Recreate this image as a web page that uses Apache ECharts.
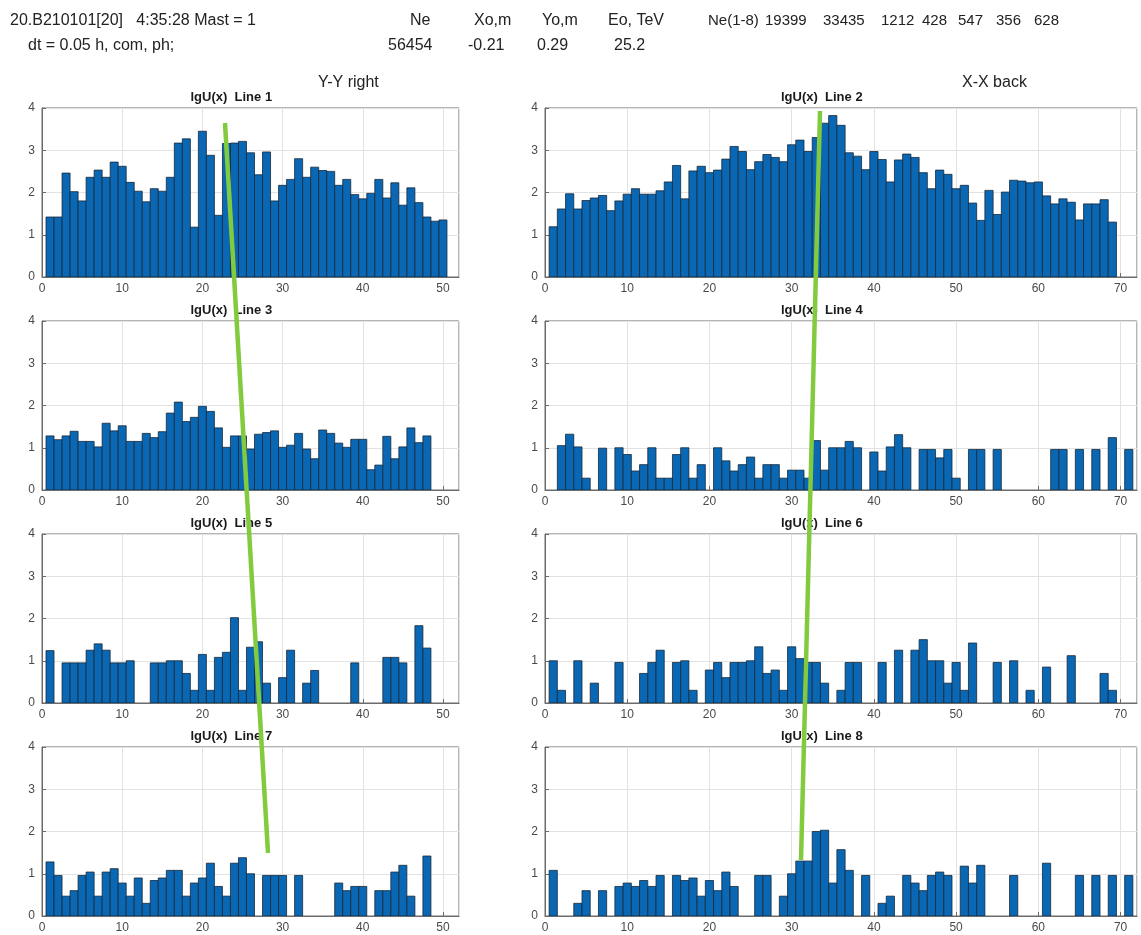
<!DOCTYPE html>
<html><head><meta charset="utf-8">
<script src="https://cdn.jsdelivr.net/npm/echarts@6/dist/echarts.min.js"></script>
<style>html,body{margin:0;padding:0;background:#fff}#c{width:1141px;height:935px}</style>
</head><body><div id="c"></div>
<script>
// ---- data (index i -> channel x = i+1; 0 = no signal) ----
const line1 = [1.42,1.42,2.46,2.02,1.80,2.36,2.53,2.36,2.72,2.62, 2.24,2.03,1.78,2.09,2.03,2.36,3.17,3.27,1.18,3.45, 2.88,1.46,3.16,3.17,3.21,2.94,2.42,2.96,1.80,2.17, 2.31,2.80,2.36,2.60,2.52,2.50,2.17,2.31,1.95,1.85, 1.98,2.31,1.87,2.23,1.70,2.11,1.76,1.42,1.32,1.35];
const line2 = [1.19,1.61,1.97,1.61,1.81,1.87,1.93,1.57,1.80,1.96, 2.09,1.96,1.96,2.04,2.25,2.64,1.85,2.51,2.62,2.47, 2.53,2.79,3.09,2.97,2.54,2.73,2.90,2.83,2.73,3.13, 3.24,2.97,3.30,3.64,3.82,3.59,2.94,2.86,2.54,2.97, 2.78,2.25,2.77,2.91,2.83,2.47,2.09,2.53,2.43,2.09, 2.17,1.75,1.34,2.05,1.48,2.01,2.29,2.27,2.23,2.25, 1.92,1.73,1.85,1.77,1.35,1.73,1.73,1.83,1.30];
const line3 = [1.28,1.19,1.28,1.39,1.15,1.15,1.02,1.58,1.40,1.52, 1.15,1.15,1.34,1.24,1.38,1.82,2.08,1.62,1.72,1.98, 1.86,1.47,1.01,1.28,1.28,0.97,1.32,1.36,1.40,1.01, 1.06,1.34,0.97,0.74,1.42,1.34,1.11,1.01,1.20,1.20, 0.48,0.59,1.27,0.74,1.02,1.47,1.12,1.28];
const line4 = [0,1.05,1.32,1.02,0.28,0,0.99,0,1.00,0.84, 0.45,0.60,1.00,0.28,0.28,0.84,1.00,0.28,0.60,0, 1.00,0.69,0.45,0.60,0.78,0.28,0.60,0.60,0.28,0.47, 0.47,0.28,1.17,0.47,1.00,1.00,1.15,1.00,0,0.90, 0.45,1.02,1.31,1.00,0,0.96,0.96,0.76,0.96,0.28, 0,0.96,0.96,0,0.96,0,0,0,0,0, 0,0.96,0.96,0,0.96,0,0.96,0,1.24,0,0.96];
const line5 = [1.24,0,0.95,0.95,0.95,1.25,1.40,1.25,0.95,0.95, 1.00,0,0,0.95,0.95,1.00,1.00,0.70,0.30,1.15, 0.30,1.08,1.20,2.02,0.30,1.32,1.45,0.47,0,0.60, 1.25,0,0.47,0.77,0,0,0,0,0.95,0, 0,0,1.08,1.08,0.95,0,1.83,1.30];
const line6 = [1.00,0.30,0,1.00,0,0.47,0,0,0.96,0, 0,0.70,0.96,1.25,0,0.96,1.00,0.30,0,0.78, 0.96,0.60,0.96,0.96,1.00,1.33,0.70,0.78,0.30,1.33, 1.05,0.96,0.96,0.47,0,0.30,0.96,0.96,0,0, 0.96,0,1.25,0,1.25,1.50,1.00,1.00,0.47,0.96, 0.30,1.42,0,0,0.96,0,1.00,0,0.30,0, 0.85,0,0,1.12,0,0,0,0.70,0.30];
const line7 = [1.28,0.96,0.47,0.60,0.96,1.04,0.47,1.04,1.12,0.78, 0.47,0.90,0.30,0.84,0.90,1.08,1.08,0.47,0.78,0.90, 1.25,0.70,0.47,1.25,1.38,1.00,0,0.96,0.96,0.96, 0,0.96,0,0,0,0,0.78,0.60,0.70,0.70, 0,0.60,0.60,1.04,1.20,0.47,0,1.42];
const line8 = [1.08,0,0,0.30,0.60,0,0.60,0,0.70,0.78, 0.70,0.84,0.70,0.96,0,0.96,0.84,0.90,0.47,0.84, 0.60,1.04,0.70,0,0,0.96,0.96,0,0.47,1.00, 1.30,1.30,2.00,2.03,0.78,1.57,1.08,0,0.96,0, 0.30,0.47,0,0.96,0.78,0.60,0.96,1.04,0.96,0, 1.18,0.78,1.20,0,0,0,0.96,0,0,0, 1.25,0,0,0,0.96,0,0.96,0,0.96,0,0.96];
const panelTitles = ['lgU(x)  Line 1','lgU(x)  Line 2','lgU(x)  Line 3','lgU(x)  Line 4','lgU(x)  Line 5','lgU(x)  Line 6','lgU(x)  Line 7','lgU(x)  Line 8'];
const yTicks = [0,1,2,3,4];
// hand-drawn green marker strokes (canvas pixel space overlay)
const greenStrokeLeft = [[225,123],[268,853]];
const greenStrokeRight = [[820,111],[801,860]];

// ---- layout ----
const cols = [{left:42, width:417, xmax:52},{left:545, width:592, xmax:72}];
const rowTops = [108,321,534,747];
const rowH = 169;
const lines = [line1,line2,line3,line4,line5,line6,line7,line8];
const BAR = '#0a67b3', EDGE = '#17283a';

function renderBar(params, api){
  const x = api.value(0), y = api.value(1);
  if(!y) return null;
  const a = api.coord([x-0.5, y]);
  const b = api.coord([x+0.5, 0]);
  return {type:'rect', shape:{x:a[0], y:a[1], width:b[0]-a[0], height:b[1]-a[1]},
          style:{fill:BAR, stroke:EDGE, lineWidth:0.8}};
}

const grids=[], xAxes=[], yAxes=[], series=[], graphics=[];
const axisFont = {color:'#4a4a4a', fontSize:12, fontFamily:'Liberation Sans, Arial, sans-serif'};
lines.forEach((arr, i) => {
  const col = cols[i % 2], row = Math.floor(i / 2);
  grids.push({left:col.left, top:rowTops[row], width:col.width, height:rowH,
    show:true, borderColor:'#6b6b6b', borderWidth:1, backgroundColor:'#fff', containLabel:false});
  xAxes.push({type:'value', gridIndex:i, min:0, max:col.xmax, interval:10,
    axisLine:{show:true, lineStyle:{color:'#6b6b6b'}},
    axisTick:{show:true, inside:true, length:4, lineStyle:{color:'#6b6b6b'}},
    axisLabel:Object.assign({margin:6, showMaxLabel:false}, axisFont),
    splitLine:{show:true, lineStyle:{color:'#e2e2e2', width:1}}});
  yAxes.push({type:'value', gridIndex:i, min:yTicks[0], max:yTicks[yTicks.length-1], interval:1,
    axisLine:{show:true, lineStyle:{color:'#6b6b6b'}},
    axisTick:{show:true, inside:true, length:4, lineStyle:{color:'#6b6b6b'}},
    axisLabel:Object.assign({margin:7}, axisFont),
    splitLine:{show:true, lineStyle:{color:'#e2e2e2', width:1}}});
  series.push({type:'custom', xAxisIndex:i, yAxisIndex:i, renderItem:renderBar, clip:true,
    encode:{x:0, y:1}, data:arr.map((v,k)=>[k+1, v]), silent:true, z:2});
  graphics.push({type:'text', left:col.left + col.width/2 - 60, top:rowTops[row]-17,
    style:{text:panelTitles[i], fontSize:13, fontWeight:'bold', fill:'#1a1a1a',
      fontFamily:'Liberation Sans, Arial, sans-serif', width:120, align:'center'}});
});

// overlay grid for the green marker strokes
grids.push({left:0, top:0, width:1141, height:935, show:false});
xAxes.push({type:'value', gridIndex:8, min:0, max:1141, show:false});
yAxes.push({type:'value', gridIndex:8, min:0, max:935, inverse:true, show:false});
[greenStrokeLeft, greenStrokeRight].forEach(s => series.push({type:'line', xAxisIndex:8, yAxisIndex:8,
  data:s, showSymbol:false, symbol:'none', silent:true, z:20, lineStyle:{color:'#82cb3f', width:4.5}}));

// header texts
const hf = 'Liberation Sans, Arial, sans-serif';
const header = [
  ['20.B210101[20]   4:35:28 Mast = 1', 10, 13],
  ['dt = 0.05 h, com, ph;', 28, 38],
  ['Ne', 410, 13], ['Xo,m', 474, 13], ['Yo,m', 542, 13], ['Eo, TeV', 608, 13],
  ['56454', 388, 38], ['-0.21', 468, 38], ['0.29', 537, 38], ['25.2', 614, 38],
  ['Ne(1-8)', 708, 13], ['19399', 765, 13], ['33435', 823, 13], ['1212', 881, 13],
  ['428', 922, 13], ['547', 958, 13], ['356', 996, 13], ['628', 1034, 13],
  ['Y-Y right', 318, 75], ['X-X back', 962, 75]
];
header.forEach(h => graphics.push({type:'text', left:h[1], top:h[2],
  style:{text:h[0], fontSize:h[1] >= 700 && h[2] === 13 ? 15 : 16, fill:'#222', fontFamily:hf}}));

const chart = echarts.init(document.getElementById('c'), null, {renderer:'canvas'});
chart.setOption({animation:false, backgroundColor:'#fff', grid:grids, xAxis:xAxes, yAxis:yAxes, series:series, graphic:graphics});
</script></body></html>
